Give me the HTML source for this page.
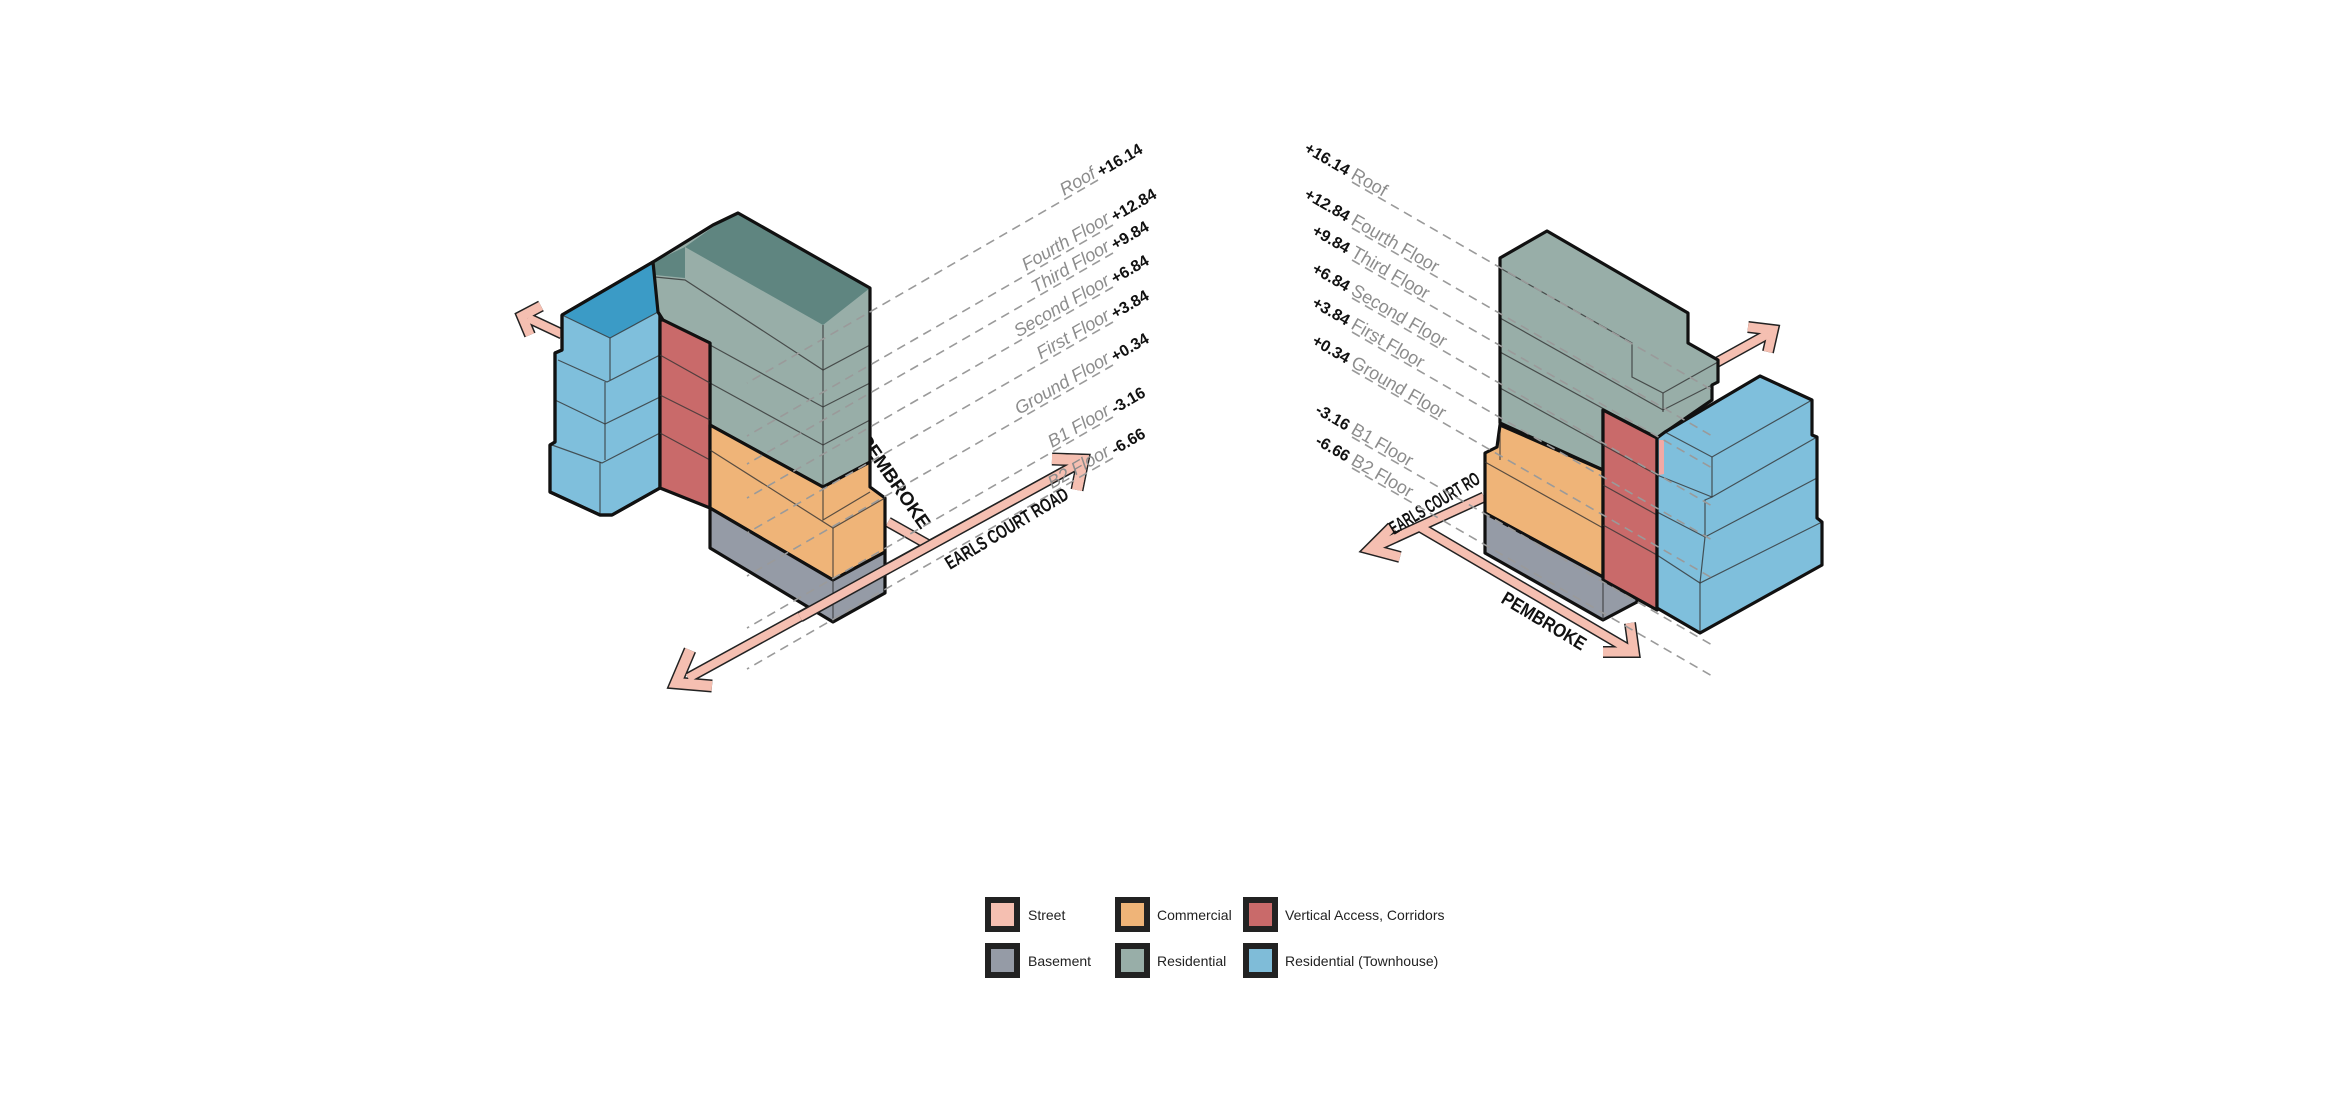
<!DOCTYPE html>
<html><head><meta charset="utf-8"><style>
html,body{margin:0;padding:0;background:#fff;}
svg{display:block;}
.lab{font-family:"Liberation Sans",sans-serif;font-size:18px;fill:#8c8c8c;font-style:italic;}
.num{font-family:"Liberation Sans",sans-serif;font-size:16px;font-weight:bold;fill:#111;}
.rlab{font-family:"Liberation Sans",sans-serif;font-size:18px;fill:#8c8c8c;}
.road{font-family:"Liberation Sans",sans-serif;font-size:19px;font-weight:bold;fill:#111;}
.dash{stroke:#9a9a9a;stroke-width:1.6;stroke-dasharray:9 6;fill:none;}
.e{stroke:#111;stroke-width:3.2;stroke-linejoin:round;}
.t{stroke:#333;stroke-width:1.2;fill:none;opacity:.8;}
.leg{font-family:"Liberation Sans",sans-serif;font-size:14px;fill:#222;}
</style></head><body>
<svg width="2340" height="1096" viewBox="0 0 2340 1096" xmlns="http://www.w3.org/2000/svg">

<!-- ===== LEFT VIEW ===== -->
<text class="road" transform="translate(858,440) rotate(55)" textLength="110" lengthAdjust="spacingAndGlyphs">PEMBROKE</text>

<g stroke-linejoin="miter" fill="none">
<line x1="688" y1="678" x2="1078" y2="464" stroke="#222" stroke-width="11"/>
<line x1="888" y1="522" x2="927" y2="544" stroke="#222" stroke-width="11"/>
<polyline points="712,686 676,683 690,650" stroke="#222" stroke-width="13"/>
<polyline points="1052,459 1083,460 1077,490" stroke="#222" stroke-width="13"/>
<line x1="688" y1="678" x2="1078" y2="464" stroke="#f5bfb1" stroke-width="8"/>
<line x1="888" y1="522" x2="927" y2="544" stroke="#f5bfb1" stroke-width="8"/>
<polyline points="712,686 676,683 690,650" stroke="#f5bfb1" stroke-width="10"/>
<polyline points="1052,459 1083,460 1077,490" stroke="#f5bfb1" stroke-width="10"/>
<line x1="562" y1="334" x2="528" y2="318" stroke="#222" stroke-width="11"/>
<polyline points="530,335 522,316 541,306" stroke="#222" stroke-width="12"/>
<line x1="562" y1="334" x2="528" y2="318" stroke="#f5bfb1" stroke-width="8"/>
<polyline points="530,335 522,316 541,306" stroke="#f5bfb1" stroke-width="9"/>
</g>
<text class="road" transform="translate(950,570) rotate(-31)" textLength="140" lengthAdjust="spacingAndGlyphs">EARLS COURT ROAD</text>

<polygon class="e" fill="#7fbfdc" points="562,315 653,262 660,312 660,488 612,515 600,515 550,492 550,445 555,442 555,353 562,350"/>
<polygon fill="#3b9bc6" points="562,315 653,262 658,312 610,338"/>
<polyline class="t" points="562,315 610,338 658,312"/>
<line class="t" x1="610" y1="338" x2="610" y2="380"/>
<line class="t" x1="605" y1="382" x2="605" y2="460"/>
<line class="t" x1="600" y1="462" x2="600" y2="515"/>
<polyline class="t" points="558,360 607,382 660,355"/>
<polyline class="t" points="555,400 605,424 660,397"/>
<polyline class="t" points="552,445 602,463 660,433"/>
<polyline class="e" fill="none" points="562,315 653,262 660,312 660,488 612,515 600,515 550,492 550,445 555,442 555,353 562,350 562,315"/>

<polygon fill="#98aea8" points="653,262 713,225 738,213 870,288 870,463 823,487 710,425 710,343 663,320 658,312"/>
<polygon fill="#5f8580" points="685,247 713,227 738,213 870,288 823,325"/>
<polygon fill="#5f8580" points="653,262 685,247 685,278 655,275"/>
<line class="t" x1="823" y1="325" x2="823" y2="487"/>
<polyline class="t" points="655,277 685,280 823,370 870,345"/>
<polyline class="t" points="710,345 823,407 870,383"/>
<polyline class="t" points="710,383 823,445 870,420"/>
<polygon class="e" fill="none" points="653,262 713,225 738,213 870,288 870,463 823,487 710,425 710,343 663,320 658,312"/>

<polygon class="e" fill="#c96a6a" points="663,320 710,343 710,508 660,488 660,320"/>
<line class="t" x1="660" y1="355" x2="710" y2="383"/>
<line class="t" x1="660" y1="395" x2="710" y2="420"/>
<line class="t" x1="660" y1="433" x2="710" y2="460"/>

<polygon class="e" fill="#efb478" points="710,425 823,487 870,462 870,487 885,498 885,552 833,580 710,508"/>
<polyline class="t" points="710,450 833,528 885,498"/>
<line class="t" x1="833" y1="528" x2="833" y2="580"/>
<polyline class="t" points="823,487 823,520 870,492"/>

<polygon class="e" fill="#959ba6" points="710,508 833,580 885,552 885,593 833,622 710,548"/>
<line class="t" x1="833" y1="580" x2="833" y2="622"/>

<line x1="800" y1="617" x2="1078" y2="464" stroke="#222" stroke-width="11"/>
<line x1="800" y1="617" x2="1078" y2="464" stroke="#f5bfb1" stroke-width="8"/>
<polyline points="1052,459 1083,460 1077,490" stroke="#f5bfb1" stroke-width="10" fill="none"/>

<g class="dash">
<line x1="1098" y1="180" x2="747" y2="383"/>
<line x1="1113" y1="225" x2="747" y2="436"/>
<line x1="1113" y1="253" x2="747" y2="464"/>
<line x1="1113" y1="287" x2="747" y2="498"/>
<line x1="1113" y1="322" x2="747" y2="533"/>
<line x1="1113" y1="365" x2="747" y2="576"/>
<line x1="1113" y1="417" x2="747" y2="628"/>
<line x1="1113" y1="458" x2="747" y2="669"/>
</g>
<g>
<text class="lab" text-anchor="end" transform="translate(1097,177) rotate(-30)">Roof</text>
<text class="num" transform="translate(1101,177) rotate(-30)">+16.14</text>
<text class="lab" text-anchor="end" transform="translate(1111,222) rotate(-30)">Fourth Floor</text>
<text class="num" transform="translate(1115,222) rotate(-30)">+12.84</text>
<text class="lab" text-anchor="end" transform="translate(1111,250) rotate(-30)">Third Floor</text>
<text class="num" transform="translate(1115,250) rotate(-30)">+9.84</text>
<text class="lab" text-anchor="end" transform="translate(1111,284) rotate(-30)">Second Floor</text>
<text class="num" transform="translate(1115,284) rotate(-30)">+6.84</text>
<text class="lab" text-anchor="end" transform="translate(1111,319) rotate(-30)">First Floor</text>
<text class="num" transform="translate(1115,319) rotate(-30)">+3.84</text>
<text class="lab" text-anchor="end" transform="translate(1111,362) rotate(-30)">Ground Floor</text>
<text class="num" transform="translate(1115,362) rotate(-30)">+0.34</text>
<text class="lab" text-anchor="end" transform="translate(1111,414) rotate(-30)">B1 Floor</text>
<text class="num" transform="translate(1115,414) rotate(-30)">-3.16</text>
<text class="lab" text-anchor="end" transform="translate(1111,455) rotate(-30)">B2 Floor</text>
<text class="num" transform="translate(1115,455) rotate(-30)">-6.66</text>
</g>

<!-- ===== RIGHT VIEW ===== -->
<g fill="none">
<line x1="1712" y1="365" x2="1768" y2="334" stroke="#222" stroke-width="11"/>
<polyline points="1748,327 1773,330 1768,352" stroke="#222" stroke-width="12"/>
<line x1="1712" y1="365" x2="1768" y2="334" stroke="#f5bfb1" stroke-width="8"/>
<polyline points="1748,327 1773,330 1768,352" stroke="#f5bfb1" stroke-width="9"/>
<line x1="1484" y1="497" x2="1375" y2="547" stroke="#222" stroke-width="11"/>
<line x1="1420" y1="527" x2="1628" y2="649" stroke="#222" stroke-width="11"/>
<polyline points="1392,527 1370,549 1400,557" stroke="#222" stroke-width="12"/>
<polyline points="1630,623 1634,652 1603,652" stroke="#222" stroke-width="12"/>
<line x1="1484" y1="497" x2="1375" y2="547" stroke="#f5bfb1" stroke-width="8"/>
<line x1="1420" y1="527" x2="1628" y2="649" stroke="#f5bfb1" stroke-width="8"/>
<polyline points="1392,527 1370,549 1400,557" stroke="#f5bfb1" stroke-width="9"/>
<polyline points="1630,623 1634,652 1603,652" stroke="#f5bfb1" stroke-width="9"/>
</g>
<text class="road" transform="translate(1394,535) rotate(-31)" textLength="102" lengthAdjust="spacingAndGlyphs">EARLS COURT RO</text>
<text class="road" transform="translate(1500,602) rotate(31)" textLength="95" lengthAdjust="spacingAndGlyphs">PEMBROKE</text>

<polygon fill="#98aea8" points="1500,258 1547,231 1688,313 1688,343 1718,360 1718,382 1712,385 1712,400 1657,438 1603,410 1603,470 1500,423"/>
<polyline class="t" points="1500,268 1632,343 1632,377 1663,393 1718,362"/>
<line class="t" x1="1663" y1="393" x2="1663" y2="412"/>
<polyline class="t" points="1500,318 1663,410 1712,385"/>
<polyline class="t" points="1500,352 1657,438"/>
<polyline class="t" points="1500,388 1603,445"/>
<polygon class="e" fill="none" points="1500,258 1547,231 1688,313 1688,343 1718,360 1718,382 1712,385 1712,400 1657,438 1603,410 1603,470 1500,423"/>

<polygon class="e" fill="#efb478" points="1485,453 1497,447 1500,425 1603,470 1603,577 1485,513"/>
<line class="t" x1="1500" y1="434" x2="1500" y2="460"/>
<polyline class="t" points="1485,462 1603,528"/>
<polygon class="e" fill="#959ba6" points="1485,513 1603,577 1637,595 1637,602 1603,620 1485,553"/>
<line class="t" x1="1603" y1="577" x2="1603" y2="620"/>
<polygon class="e" fill="#c96a6a" points="1603,410 1657,438 1657,610 1603,580"/>
<line class="t" x1="1603" y1="445" x2="1657" y2="475"/>
<line class="t" x1="1603" y1="485" x2="1657" y2="515"/>
<line class="t" x1="1603" y1="525" x2="1657" y2="555"/>
<polygon fill="#7fbfdc" points="1657,438 1665,432 1760,376 1812,400 1812,435 1817,437 1817,518 1822,522 1822,565 1700,633 1657,608"/>
<polygon fill="#f2a9a5" points="1659,440 1664,440 1664,474 1659,475"/>
<polyline class="t" points="1665,432 1712,457 1812,400"/>
<polyline class="t" points="1712,457 1712,497 1705,500 1705,537 1700,583 1700,633"/>
<polyline class="t" points="1657,475 1712,497 1817,437"/>
<polyline class="t" points="1657,512 1705,537 1817,478"/>
<polyline class="t" points="1657,555 1700,583 1822,522"/>
<polygon class="e" fill="none" points="1657,438 1665,432 1760,376 1812,400 1812,435 1817,437 1817,518 1822,522 1822,565 1700,633 1657,608"/>

<g class="dash">
<line x1="1352" y1="182" x2="1712" y2="390"/>
<line x1="1352" y1="228" x2="1712" y2="436"/>
<line x1="1352" y1="260" x2="1712" y2="468"/>
<line x1="1352" y1="298" x2="1712" y2="506"/>
<line x1="1352" y1="332" x2="1712" y2="540"/>
<line x1="1352" y1="370" x2="1712" y2="578"/>
<line x1="1352" y1="437" x2="1712" y2="645"/>
<line x1="1352" y1="468" x2="1712" y2="676"/>
</g>
<g>
<text class="num" text-anchor="end" transform="translate(1346,176) rotate(30)">+16.14</text>
<text class="rlab" transform="translate(1350,178) rotate(30)">Roof</text>
<text class="num" text-anchor="end" transform="translate(1346,222) rotate(30)">+12.84</text>
<text class="rlab" transform="translate(1350,224) rotate(30)">Fourth Floor</text>
<text class="num" text-anchor="end" transform="translate(1346,254) rotate(30)">+9.84</text>
<text class="rlab" transform="translate(1350,256) rotate(30)">Third Floor</text>
<text class="num" text-anchor="end" transform="translate(1346,292) rotate(30)">+6.84</text>
<text class="rlab" transform="translate(1350,294) rotate(30)">Second Floor</text>
<text class="num" text-anchor="end" transform="translate(1346,326) rotate(30)">+3.84</text>
<text class="rlab" transform="translate(1350,328) rotate(30)">First Floor</text>
<text class="num" text-anchor="end" transform="translate(1346,364) rotate(30)">+0.34</text>
<text class="rlab" transform="translate(1350,366) rotate(30)">Ground Floor</text>
<text class="num" text-anchor="end" transform="translate(1346,431) rotate(30)">-3.16</text>
<text class="rlab" transform="translate(1350,433) rotate(30)">B1 Floor</text>
<text class="num" text-anchor="end" transform="translate(1346,462) rotate(30)">-6.66</text>
<text class="rlab" transform="translate(1350,464) rotate(30)">B2 Floor</text>
</g>

<g stroke="#222" stroke-width="6">
<rect x="988" y="900" width="29" height="29" fill="#f5bfb1"/>
<rect x="1118" y="900" width="29" height="29" fill="#efb478"/>
<rect x="1246" y="900" width="29" height="29" fill="#c96a6a"/>
<rect x="988" y="946" width="29" height="29" fill="#959ba6"/>
<rect x="1118" y="946" width="29" height="29" fill="#98aea8"/>
<rect x="1246" y="946" width="29" height="29" fill="#7fbcd8"/>
</g>
<text class="leg" x="1028" y="920">Street</text>
<text class="leg" x="1157" y="920">Commercial</text>
<text class="leg" x="1285" y="920">Vertical Access, Corridors</text>
<text class="leg" x="1028" y="966">Basement</text>
<text class="leg" x="1157" y="966">Residential</text>
<text class="leg" x="1285" y="966">Residential (Townhouse)</text>
</svg>
</body></html>
